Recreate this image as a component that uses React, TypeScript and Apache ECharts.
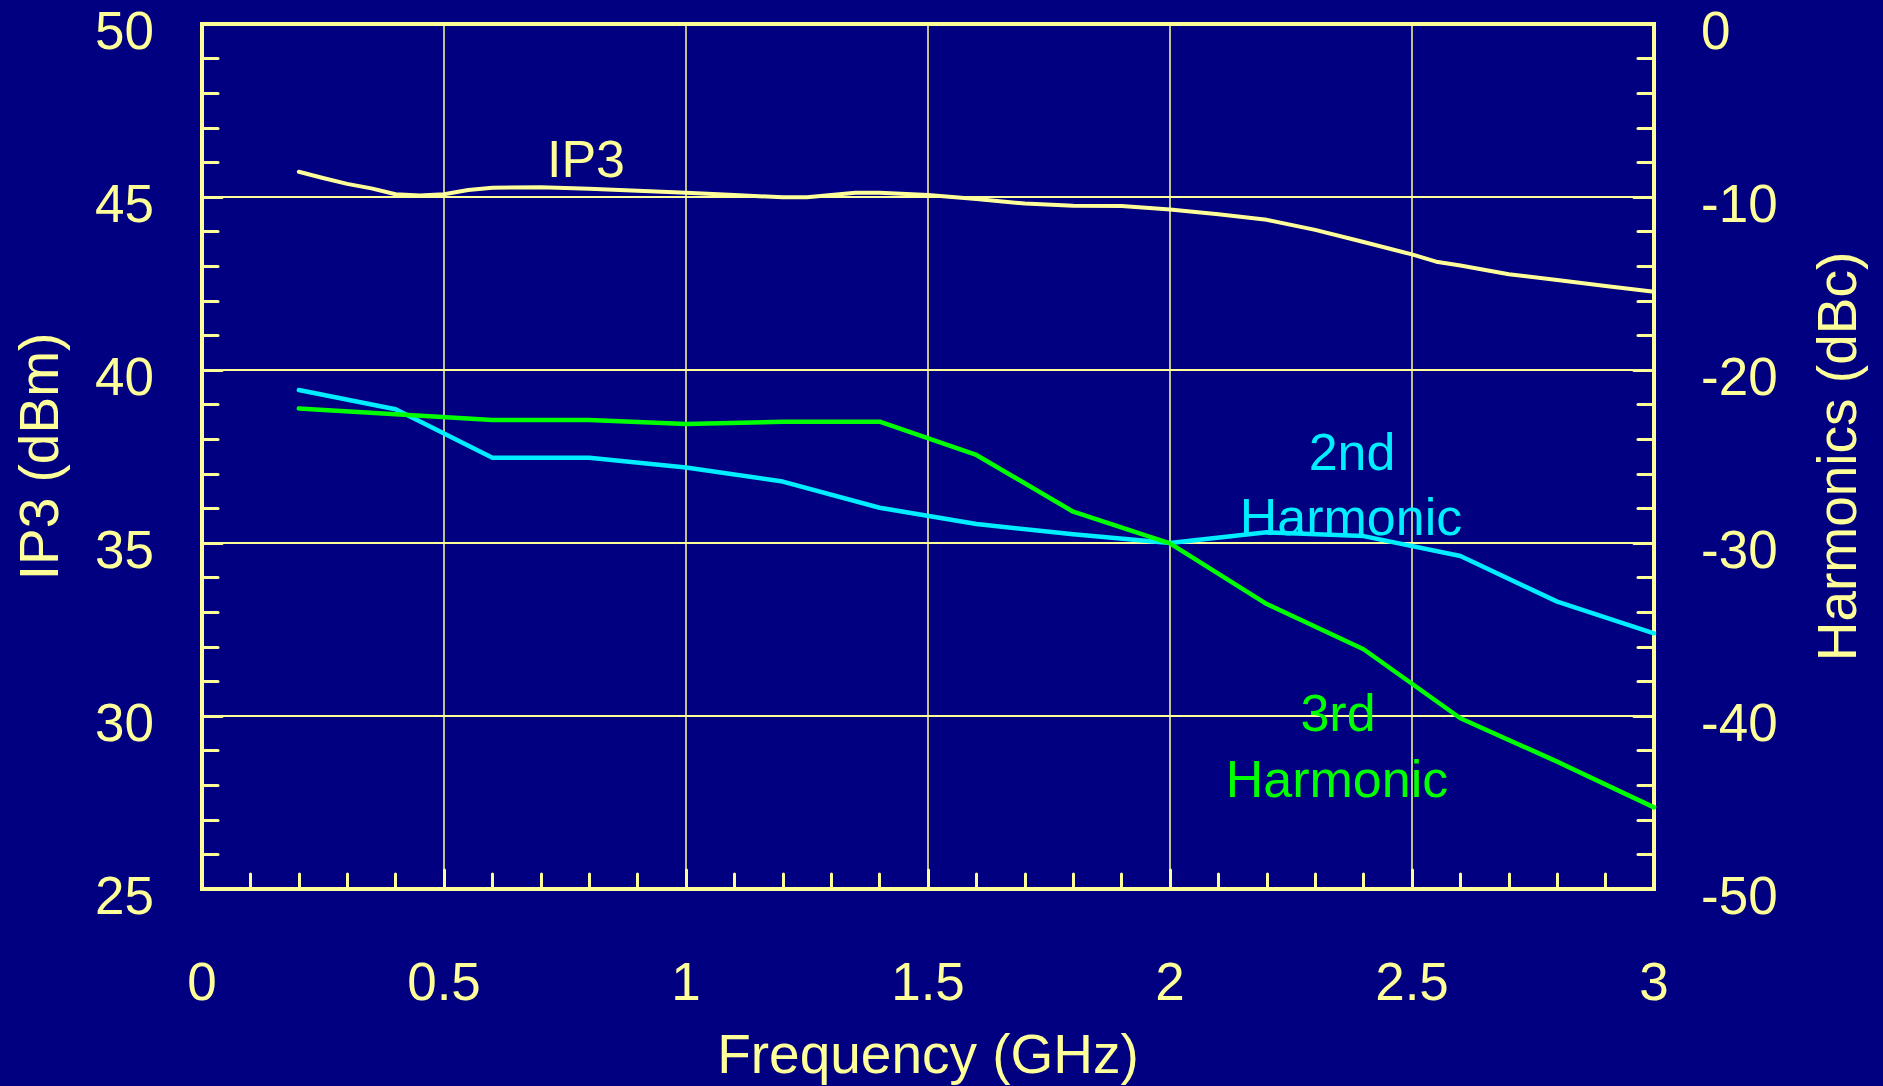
import React, { useEffect, useRef } from "react";
import * as echarts from "echarts";

// ---- Data ----
const ip3Freq = [0.2, 0.25, 0.3, 0.35, 0.4, 0.45, 0.5, 0.55, 0.6, 0.7, 0.8, 0.9, 1.0, 1.1, 1.2, 1.25, 1.3, 1.35, 1.4, 1.5, 1.6, 1.7, 1.8, 1.9, 2.0, 2.1, 2.2, 2.3, 2.4, 2.5, 2.55, 2.6, 2.7, 2.8, 2.9, 3.0];
const ip3Values = [45.73, 45.55, 45.38, 45.25, 45.08, 45.04, 45.08, 45.2, 45.27, 45.28, 45.24, 45.18, 45.12, 45.06, 44.99, 44.99, 45.06, 45.12, 45.12, 45.06, 44.94, 44.81, 44.75, 44.74, 44.64, 44.5, 44.34, 44.05, 43.7, 43.34, 43.13, 43.02, 42.77, 42.6, 42.43, 42.26];

const harmFreq = [0.2, 0.4, 0.6, 0.8, 1.0, 1.2, 1.4, 1.6, 1.8, 2.0, 2.2, 2.4, 2.6, 2.8, 3.0];
const secondHarmonic = [-21.16, -22.27, -25.07, -25.07, -25.63, -26.45, -27.96, -28.9, -29.5, -30.0, -29.38, -29.6, -30.75, -33.39, -35.22];
const thirdHarmonic = [-22.22, -22.56, -22.89, -22.89, -23.12, -22.99, -22.99, -24.91, -28.19, -30.02, -33.53, -36.14, -40.13, -42.64, -45.28];

const xTitle = "Frequency (GHz)";
const leftTitle = "IP3 (dBm)";
const rightTitle = "Harmonics (dBc)";

const BG = "#000080";
const YELLOW = "#FFFF99";
const CYAN = "#00EEFF";
const GREEN = "#00FF00";
const FONT = "'Liberation Sans', Arial, sans-serif";

export default function App() {
  const ref = useRef<HTMLDivElement>(null);

  useEffect(() => {
    document.body.style.margin = "0";
    const chart = echarts.init(ref.current!, null, { renderer: "svg" });
    const zip = (xs: number[], ys: number[]) => xs.map((x, i) => [x, ys[i]]);
    const labelStyle = { color: YELLOW, fontSize: 53, fontFamily: FONT };
    const titleStyle = { color: YELLOW, fontSize: 55, fontFamily: FONT };
    const tickStyle = { color: YELLOW, width: 3, cap: "round" };

    chart.setOption({
      animation: false,
      backgroundColor: BG,
      grid: {
        left: 202,
        top: 24,
        width: 1452,
        height: 865,
        show: true,
        borderColor: YELLOW,
        borderWidth: 4,
        backgroundColor: "transparent",
      },
      xAxis: {
        type: "value",
        position: "bottom",
        min: 0,
        max: 3,
        interval: 0.5,
        axisLine: { show: false, onZero: false },
        axisTick: { show: true, inside: true, length: 19, lineStyle: tickStyle },
        minorTick: { show: true, splitNumber: 5, length: 15, lineStyle: tickStyle },
        splitLine: { show: true, lineStyle: { color: YELLOW, width: 1.5 } },
        axisLabel: { ...labelStyle, margin: 66 },
        name: xTitle,
        nameLocation: "middle",
        nameGap: 137,
        nameTextStyle: { ...titleStyle },
      },
      yAxis: [
        {
          type: "value",
          position: "left",
          min: 25,
          max: 50,
          interval: 5,
          axisLine: { show: false, onZero: false },
          axisTick: { show: true, inside: true, length: 20, lineStyle: tickStyle },
          minorTick: { show: true, splitNumber: 5, length: 16, lineStyle: tickStyle },
          splitLine: { show: true, lineStyle: { color: YELLOW, width: 2 } },
          axisLabel: { ...labelStyle, margin: 48, lineHeight: 12, verticalAlign: "top" },
          name: leftTitle,
          nameLocation: "middle",
          nameRotate: 90,
          nameGap: 136,
          nameTextStyle: { ...titleStyle },
        },
        {
          type: "value",
          position: "right",
          min: -50,
          max: 0,
          interval: 10,
          axisLine: { show: false, onZero: false },
          axisTick: { show: true, inside: true, length: 20, lineStyle: tickStyle },
          minorTick: { show: true, splitNumber: 5, length: 16, lineStyle: tickStyle },
          splitLine: { show: false },
          axisLabel: { ...labelStyle, margin: 47, lineHeight: 12, verticalAlign: "top" },
          name: rightTitle,
          nameLocation: "middle",
          nameRotate: 90,
          nameGap: 155,
          nameTextStyle: { ...titleStyle },
        },
      ],
      series: [
        {
          name: "IP3",
          type: "line",
          yAxisIndex: 0,
          data: zip(ip3Freq, ip3Values),
          showSymbol: false,
          lineStyle: { color: YELLOW, width: 4, cap: "round", join: "round" },
          z: 3,
        },
        {
          name: "2nd Harmonic",
          type: "line",
          yAxisIndex: 1,
          data: zip(harmFreq, secondHarmonic),
          showSymbol: false,
          lineStyle: { color: CYAN, width: 4.5, cap: "round", join: "round" },
          z: 4,
        },
        {
          name: "3rd Harmonic",
          type: "line",
          yAxisIndex: 1,
          data: zip(harmFreq, thirdHarmonic),
          showSymbol: false,
          lineStyle: { color: GREEN, width: 4.5, cap: "round", join: "round" },
          z: 5,
        },
      ],
      graphic: [
        { type: "text", x: 586, y: 159, z: 10, style: { text: "IP3", fill: YELLOW, font: `52px ${FONT}`, align: "center", verticalAlign: "middle" } },
        { type: "text", x: 1352, y: 452, z: 10, style: { text: "2nd", fill: CYAN, font: `52px ${FONT}`, align: "center", verticalAlign: "middle" } },
        { type: "text", x: 1351, y: 517, z: 10, style: { text: "Harmonic", fill: CYAN, font: `52px ${FONT}`, align: "center", verticalAlign: "middle" } },
        { type: "text", x: 1338, y: 713, z: 10, style: { text: "3rd", fill: GREEN, font: `52px ${FONT}`, align: "center", verticalAlign: "middle" } },
        { type: "text", x: 1337, y: 779, z: 10, style: { text: "Harmonic", fill: GREEN, font: `52px ${FONT}`, align: "center", verticalAlign: "middle" } },
      ],
    });
    return () => chart.dispose();
  }, []);

  return (
    <div
      ref={ref}
      style={{ position: "fixed", left: 0, top: 0, width: 1883, height: 1086, background: BG }}
    />
  );
}
